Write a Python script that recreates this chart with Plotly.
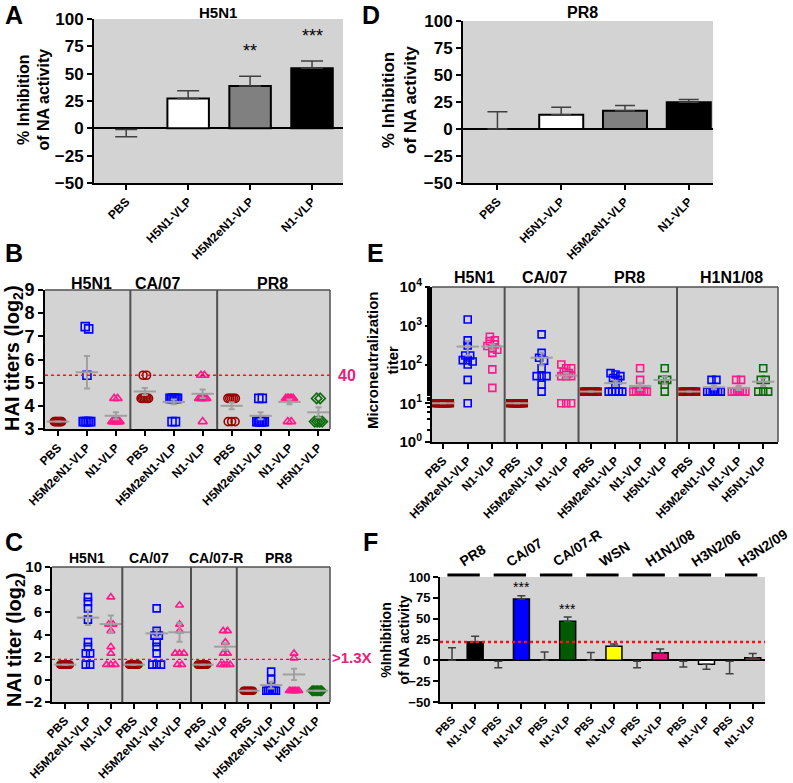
import math
import plotly.graph_objects as go

W, H = 793, 783
FONTE = "Arial, Liberation Sans, sans-serif"
CINZA_FUNDO = "#d3d3d3"
CINZA_MEDIA = "#a0a0a0"
BORDA = "#505050"
VERMELHO_ESC = "#9b0000"
AZUL = "#0000ff"
ROSA = "#ff1a8c"
VERDE = "#0b6b0b"
ROSA_TXT = "#e8207a"

# ---------------- dados ----------------
# A / D: % inibicao da atividade NA
grupos_ad = ["PBS", "H5N1-VLP", "H5M2eN1-VLP", "N1-VLP"]
a_media = [-1, 27.4, 38.7, 54.9]
a_erro = [6.7, 7, 9, 6.7]
a_sig = ["", "", "**", "***"]
d_media = [0, 13.3, 17, 24.8]
d_erro = [16, 6.8, 4.7, 2.4]

# B: HAI (log2)
hai_grupos = ["H5N1", "CA/07", "PR8"]
hai_rotulos = ["PBS", "H5M2eN1-VLP", "N1-VLP",
               "PBS", "H5M2eN1-VLP", "N1-VLP",
               "PBS", "H5M2eN1-VLP", "N1-VLP", "H5N1-VLP"]
hai_h5n1 = [
    [3.32, 3.32, 3.32, 3.32, 3.32, 3.32, 3.32, 3.32],
    [7.42, 7.32, 5.32, 3.32, 3.32, 3.32, 3.32, 3.32],
    [4.32, 4.32, 3.32, 3.32, 3.32, 3.32, 3.32, 3.32],
]
hai_ca07 = [
    [5.32, 5.32, 4.32, 4.32, 4.32, 4.32, 4.32, 4.32],
    [4.32, 4.32, 4.32, 4.32, 4.32, 4.32, 3.32, 3.32],
    [5.32, 5.32, 4.32, 4.32, 4.32, 4.32, 4.32, 3.32],
]
hai_pr8 = [
    [4.32, 4.32, 4.32, 4.32, 4.32, 3.32, 3.32, 3.32],
    [4.32, 4.32, 3.32, 3.32, 3.32, 3.32, 3.32, 3.32],
    [4.32, 4.32, 4.32, 4.32, 4.32, 4.32, 3.32, 3.32],
    [4.32, 4.32, 3.32, 3.32, 3.32, 3.32],
]
hai_media = [3.32, 5.45, 3.57, 4.62, 4.17, 4.52, 4.0, 3.57, 4.17, 3.72]
hai_sem = [0, 0.7, 0.15, 0.15, 0.1, 0.18, 0.15, 0.15, 0.1, 0.22]
hai_limiar = 5.32

# C: NAI (log2)
nai_grupos = ["H5N1", "CA/07", "CA/07-R", "PR8"]
nai_rotulos = ["PBS", "H5M2eN1-VLP", "N1-VLP",
               "PBS", "H5M2eN1-VLP", "N1-VLP",
               "PBS", "N1-VLP",
               "PBS", "H5M2eN1-VLP", "N1-VLP", "H5N1-VLP"]
nai_h5n1 = [
    [1.32, 1.32, 1.32, 1.32, 1.32, 1.32, 1.32, 1.32, 1.32, 1.32],
    [7.32, 6.9, 6.32, 5.32, 3.32, 2.9, 2.32, 2.32, 1.32, 1.32],
    [7.32, 4.9, 4.9, 4.32, 2.9, 2.32, 1.32, 1.32, 1.32],
]
nai_ca07 = [
    [1.32, 1.32, 1.32, 1.32, 1.32, 1.32, 1.32, 1.32, 1.32, 1.32],
    [6.32, 4.32, 3.9, 3.9, 3.32, 2.9, 2.32, 1.32, 1.32, 1.32],
    [6.6, 4.9, 4.32, 2.32, 2.32, 2.32, 1.32, 1.32],
]
nai_ca07r = [
    [1.32, 1.32, 1.32, 1.32, 1.32, 1.32, 1.32, 1.32],
    [4.32, 4.32, 3.32, 2.32, 2.32, 1.32, 1.32, 1.32, 1.32],
]
nai_pr8 = [
    [-1, -1, -1, -1, -1, -1, -1, -1],
    [0.7, 0, -1, -1, -1, -1, -1, -1],
    [2.32, 1.9, -1, -1, -1, -1, -1, -1, -1],
    [-1, -1, -1, -1, -1, -1, -1, -1],
]
nai_media = [1.32, 5.5, 4.93, 1.32, 4.1, 4.2, 1.32, 2.92, -1, -0.5, 0.45, -1]
nai_sem = [0, 0.65, 0.75, 0, 0.35, 0.85, 0, 0.3, 0, 0.3, 0.5, 0]
nai_limiar = 1.79

# E: microneutralizacao
mn_grupos = ["H5N1", "CA/07", "PR8", "H1N1/08"]
mn_rotulos = ["PBS", "H5M2eN1-VLP", "N1-VLP",
              "PBS", "H5M2eN1-VLP", "N1-VLP",
              "PBS", "H5M2eN1-VLP", "N1-VLP", "H5N1-VLP",
              "PBS", "H5M2eN1-VLP", "N1-VLP", "H5N1-VLP"]
mn_h5n1 = [
    [10, 10, 10, 10, 10, 10, 10, 10],
    [1450, 420, 310, 170, 170, 130, 130, 120, 100, 40, 10],
    [520, 420, 400, 330, 300, 260, 240, 200, 75, 25],
]
mn_ca07 = [
    [10, 10, 10, 10, 10, 10, 10, 10],
    [600, 200, 150, 125, 80, 50, 50, 50, 30, 20],
    [100, 80, 80, 65, 60, 50, 50, 50, 10, 10, 10],
]
mn_pr8 = [
    [20, 20, 20, 20, 20, 20, 20, 20],
    [60, 55, 50, 45, 40, 30, 20, 20, 20, 20, 20],
    [80, 40, 20, 20, 20, 20, 20, 20],
    [80, 40, 40, 30, 20],
]
mn_h1n1 = [
    [20, 20, 20, 20, 20, 20, 20, 20],
    [40, 40, 20, 20, 20, 20, 20, 20],
    [40, 40, 20, 20, 20, 20, 20, 20],
    [80, 40, 40, 20, 20, 20],
]
mn_media = [10, 290, 290, 10, 150, 52, 20, 33, 28, 40, 20, 26, 25, 36]
mn_sem = [0, 120, 45, 0, 55, 8, 0, 5, 6, 9, 0, 3, 3, 8]

# F: % inibicao por cepa
f_cepas = ["PR8", "CA/07", "CA/07-R", "WSN", "H1N1/08", "H3N2/06", "H3N2/09"]
f_rotulos = ["PBS", "N1-VLP", "PBS", "N1-VLP", "PBS", "N1-VLP", "PBS", "N1-VLP",
             "PBS", "N1-VLP", "PBS", "N1-VLP", "PBS", "N1-VLP"]
f_media = [0, 22, -1, 73.6, 0, 47, 0, 17, -1, 9, -1, -4.8, -1, 3.2]
f_erro = [15, 7, 8, 4, 10, 5, 9.5, 2.5, 8, 4.5, 7, 6, 15, 5]
f_sig = ["", "", "", "***", "", "***", "", "", "", "", "", "", "", ""]
f_limiar = 22

# ---------------- estilos ----------------
cores_ad = ["rgba(0,0,0,0)", "white", "#808080", "black"]
cores_f = ["rgba(0,0,0,0)", "black", "rgba(0,0,0,0)", "#0000ff", "rgba(0,0,0,0)", "#005a00",
           "rgba(0,0,0,0)", "#ffff00", "rgba(0,0,0,0)", "#e0107a", "rgba(0,0,0,0)", "white",
           "rgba(0,0,0,0)", "#c06060"]
estilo = {
    "PBS": ("circle-open", VERMELHO_ESC),
    "H5M2eN1-VLP": ("square-open", AZUL),
    "N1-VLP": ("triangle-up-open", ROSA),
    "H5N1-VLP": ("diamond-open", VERDE),
}


def px_x(p):
    return p / W


def px_y(p):
    return 1 - p / H


def espalhar(vals, c, passo, larg_max, limiar, f=lambda v: v):
    # distribui na horizontal os pontos com valores proximos
    idx = sorted(range(len(vals)), key=lambda i: -f(vals[i]))
    grupos = []
    for i in idx:
        if grupos and f(vals[grupos[-1][0]]) - f(vals[i]) < limiar:
            grupos[-1].append(i)
        else:
            grupos.append([i])
    xs = [c] * len(vals)
    for g in grupos:
        n = len(g)
        p = passo if n < 2 else min(passo, larg_max / (n - 1))
        for k, i in enumerate(g):
            xs[i] = c + (k - (n - 1) / 2) * p
    return xs


def eixo_x(x0, x1, rng, anchor, rotulos, tam=12):
    return dict(domain=[px_x(x0), px_x(x1)], range=rng, anchor=anchor,
                showline=True, linecolor="black", linewidth=2,
                ticks="outside", ticklen=5, tickwidth=2, tickcolor="black",
                tickvals=list(range(len(rotulos))), ticktext=rotulos, tickangle=-45,
                tickfont=dict(family=FONTE, size=tam, color="black", weight="bold"),
                showgrid=False, zeroline=False, automargin=False, fixedrange=True)


def eixo_y(y0, y1, rng, anchor, tam, **kw):
    d = dict(domain=[px_y(y1), px_y(y0)], range=rng, anchor=anchor,
             showline=True, linecolor="black", linewidth=2,
             ticks="outside", ticklen=5, tickwidth=2, tickcolor="black",
             tickfont=dict(family=FONTE, size=tam, color="black", weight="bold"),
             showgrid=False, zeroline=False, automargin=False, fixedrange=True)
    d.update(kw)
    return d


fig = go.Figure()
anots = []
formas = []


def texto(x, y, t, tam, xref="paper", yref="paper", cor="black", peso="bold", **kw):
    a = dict(x=x, y=y, xref=xref, yref=yref, text=t, showarrow=False,
             xanchor="center", yanchor="middle",
             font=dict(family=FONTE, size=tam, color=cor, weight=peso))
    a.update(kw)
    anots.append(a)


def barras(media, erro, xa, ya, cores, largura, cap, linha):
    fig.add_trace(go.Bar(
        x=list(range(len(media))), y=media, width=largura, xaxis=xa, yaxis=ya,
        marker=dict(color=cores, line=dict(color="black",
                    width=[0 if c.startswith("rgba") else linha for c in cores])),
        error_y=dict(type="data", symmetric=False,
                     array=[e if m >= 0 else 0 for m, e in zip(media, erro)],
                     arrayminus=[e if m < 0 else 0 for m, e in zip(media, erro)],
                     color="#404040", thickness=1.5, width=cap),
        showlegend=False, hoverinfo="skip"))


# ---------------- A e D ----------------
barras(a_media, a_erro, "x", "y", cores_ad, 0.67, 11, 2)
barras(d_media, d_erro, "x2", "y2", cores_ad, 0.69, 10, 2)
for i, s in enumerate(a_sig):
    if s:
        texto(i, a_media[i] + a_erro[i] + 23, s, 18, "x", "y", peso="normal")


# ---------------- B, C, E: pontos ----------------
def pontos(series, rotulos, medias, sems, xa, ya, passo, larg_max, limiar, tam,
           f=lambda v: v, quadrado=False, larg_media=16):
    centros = list(range(len(rotulos)))
    for c, vals, rot in zip(centros, series, rotulos):
        simb, cor = estilo[rot]
        if quadrado:
            simb = "square" if rot == "PBS" else "square-open"
        fig.add_trace(go.Scatter(
            x=espalhar(vals, c, passo, larg_max, limiar, f), y=vals, mode="markers",
            xaxis=xa, yaxis=ya,
            marker=dict(symbol=simb, size=tam, color=cor, line=dict(color=cor, width=1.6)),
            showlegend=False, hoverinfo="skip"))
    fig.add_trace(go.Scatter(
        x=centros, y=medias, mode="markers", xaxis=xa, yaxis=ya,
        marker=dict(symbol="line-ew-open", size=larg_media, color=CINZA_MEDIA,
                    line=dict(color=CINZA_MEDIA, width=2)),
        error_y=dict(type="data", array=sems, color=CINZA_MEDIA, thickness=2, width=3),
        showlegend=False, hoverinfo="skip"))


pontos(hai_h5n1 + hai_ca07 + hai_pr8, hai_rotulos, hai_media, hai_sem,
       "x3", "y3", 0.12, 0.26, 0.3, 8)
pontos(nai_h5n1 + nai_ca07 + nai_ca07r + nai_pr8, nai_rotulos, nai_media, nai_sem,
       "x5", "y5", 0.19, 0.42, 0.3, 7)
pontos(mn_h5n1 + mn_ca07 + mn_pr8 + mn_h1n1, mn_rotulos, mn_media, mn_sem,
       "x4", "y4", 0.2, 0.55, 0.1, 7, f=math.log10, quadrado=True)

# ---------------- F ----------------
barras(f_media, f_erro, "x6", "y6", cores_f, 0.69, 4, 1.5)
for i, s in enumerate(f_sig):
    if s:
        texto(i, f_media[i] + f_erro[i] + 10, s, 14, "x6", "y6", peso="normal")
for i, cepa in enumerate(f_cepas):
    formas.append(dict(type="line", xref="x6", yref="paper", x0=2 * i - 0.2, x1=2 * i + 1.2,
                       y0=px_y(575), y1=px_y(575), line=dict(color="black", width=3)))
    texto(2 * i + 0.1, px_y(572), cepa, 14, "x6", "paper", textangle=-33,
          xanchor="left", yanchor="bottom")


# ---------------- caixas, separadores e limiares ----------------
def caixa(xa, ya, separadores):
    for x0, y0, x1, y1 in [(0, 1, 1, 1), (1, 0, 1, 1)]:
        formas.append(dict(type="line", xref=xa + " domain", yref=ya + " domain",
                           x0=x0, x1=x1, y0=y0, y1=y1, line=dict(color=BORDA, width=1.5)))
    for s in separadores:
        formas.append(dict(type="line", xref=xa, yref=ya + " domain", x0=s, x1=s,
                           y0=0, y1=1, line=dict(color=BORDA, width=2)))


def limiar(xa, ya, y, larg):
    formas.append(dict(type="line", xref=xa + " domain", yref=ya, x0=0, x1=1, y0=y, y1=y,
                       line=dict(color="#ff1010", width=larg, dash="dot")))


caixa("x3", "y3", [2.5, 5.5])
caixa("x5", "y5", [2.5, 5.5, 7.5])
caixa("x4", "y4", [2.5, 5.5, 9.5])
limiar("x3", "y3", hai_limiar, 1.3)
limiar("x5", "y5", nai_limiar, 1.3)
limiar("x6", "y6", f_limiar, 2.5)
texto(px_x(347), px_y(375), "40", 16, cor=ROSA_TXT)
texto(px_x(352), px_y(657), ">1.3X", 15, cor=ROSA_TXT)

# ---------------- titulos ----------------
texto(px_x(218), px_y(12), "H5N1", 15)
texto(px_x(582), px_y(12), "PR8", 16)
for g, x in zip(hai_grupos, [1.17, 3.45, 7.4]):
    texto(x, px_y(283), g, 16, "x3", "paper")
for g, x in zip(nai_grupos, [0.96, 3.67, 6.6, 9.3]):
    texto(x, px_y(558), g, 14, "x5", "paper")
for g, x in zip(mn_grupos, [1.26, 4.1, 7.55, 11.7]):
    texto(x, px_y(278), g, 16, "x4", "paper")

texto(px_x(33.5), px_y(100), "% Inhibition<br>of NA activity", 16, textangle=-90)
texto(px_x(399), px_y(100), "% Inhibition<br>of NA activity", 17, textangle=-90)
texto(px_x(13), px_y(358), "HAI titers (log<sub>2</sub>)", 20, textangle=-90)
texto(px_x(15), px_y(640), "NAI titer (log<sub>2</sub>)", 20, textangle=-90)
texto(px_x(382), px_y(360), "Microneutralization<br>titer", 15, textangle=-90)
texto(px_x(394.5), px_y(640), "%Inhibition<br>of NA activity", 14, textangle=-90)

for letra, x, y in [("A", 14, 15), ("D", 371, 15), ("B", 14, 253),
                    ("E", 375, 253), ("C", 14, 542), ("F", 370, 542)]:
    texto(px_x(x), px_y(y), letra, 25)

zero = dict(zeroline=True, zerolinecolor="black", zerolinewidth=2)
fig.update_layout(
    width=W, height=H, margin=dict(l=0, r=0, t=0, b=0),
    paper_bgcolor="white", plot_bgcolor=CINZA_FUNDO, showlegend=False,
    font=dict(family=FONTE, color="black"),
    barmode="overlay",
    xaxis=eixo_x(94, 343, [-0.52, 3.5], "y", grupos_ad),
    yaxis=eixo_y(19, 183, [-50, 100], "x", 17, dtick=25, **zero),
    xaxis2=eixo_x(463, 713, [-0.54, 3.38], "y2", grupos_ad),
    yaxis2=eixo_y(21, 183, [-50, 100], "x2", 17, dtick=25, **zero),
    xaxis3=eixo_x(45, 330, [-0.45, 9.4], "y3", hai_rotulos),
    yaxis3=eixo_y(290, 429, [3, 9], "x3", 18, dtick=1),
    xaxis4=eixo_x(432, 778, [-0.45, 13.6], "y4", mn_rotulos),
    yaxis4=eixo_y(287, 442, [0, 4], "x4", 15, type="log",
                  tickvals=[1, 10, 100, 1000, 10000],
                  ticktext=["10<sup>0</sup>", "10<sup>1</sup>", "10<sup>2</sup>",
                            "10<sup>3</sup>", "10<sup>4</sup>"],
                  minor=dict(ticks="outside", ticklen=3, tickcolor="black")),
    xaxis5=eixo_x(52, 330, [-0.57, 11.57], "y5", nai_rotulos),
    yaxis5=eixo_y(567, 702, [-2, 10], "x5", 15, dtick=2),
    xaxis6=eixo_x(440, 765, [-0.52, 13.53], "y6", f_rotulos, tam=11),
    yaxis6=eixo_y(577, 702, [-50, 100], "x6", 13, dtick=25, **zero),
    annotations=anots, shapes=formas,
)

fig.write_html("out.html", config={"displayModeBar": False, "staticPlot": True},
               post_script="document.body.style.margin='0';document.body.style.overflow='hidden';")
